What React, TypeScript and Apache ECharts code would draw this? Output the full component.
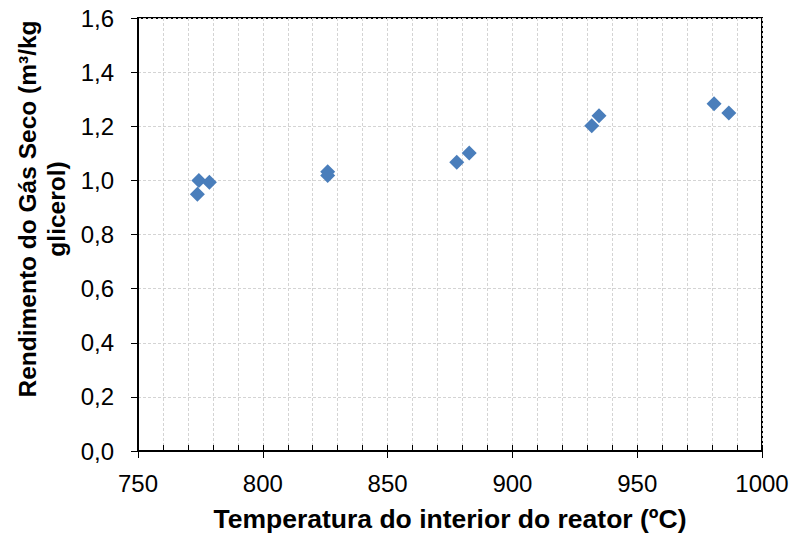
import React, { useEffect, useRef } from "react";
import * as echarts from "echarts";

// Reactor interior temperature (ºC) and dry gas yield (m³/kg glycerol)
const temperatures: number[] = [774.4, 778.6, 773.8, 826.0, 826.0, 877.7, 882.7, 931.8, 934.7, 980.8, 986.7];
const gasYield: number[] = [1.0, 0.993, 0.949, 1.032, 1.018, 1.067, 1.101, 1.202, 1.239, 1.283, 1.249];

const xTitle = "Temperatura do interior do reator (ºC)";
const yTitleLines: string[] = ["Rendimento do Gás Seco (m³/kg", "glicerol)"];

const FONT = "'Liberation Sans', Arial, sans-serif";

export default function App() {
  const ref = useRef<HTMLDivElement>(null);

  useEffect(() => {
    if (!ref.current) return;
    const chart = echarts.init(ref.current, undefined, { renderer: "svg" });

    const points = temperatures.map((t, i) => [t, gasYield[i]]);
    const gridLine = { show: true, lineStyle: { color: "#d4d4d4", width: 1, type: [3, 2] as any } };

    chart.setOption({
      animation: false,
      backgroundColor: "#ffffff",
      textStyle: { fontFamily: FONT },
      grid: {
        left: 138,
        top: 18,
        width: 624,
        height: 434,
        show: true,
        borderColor: "#000",
        borderWidth: 2,
        backgroundColor: "transparent",
      },
      xAxis: [
        {
          type: "value",
          min: 750,
          max: 1000,
          interval: 50,
          axisLine: { show: true, lineStyle: { color: "#000", width: 2 } },
          axisTick: { show: true, inside: false, length: 7, lineStyle: { color: "#000", width: 1 } },
          axisLabel: {
            color: "#000",
            fontSize: 24,
            fontFamily: FONT,
            margin: 20,
            formatter: (v: number) => String(v),
          },
          splitLine: gridLine,
          minorTick: { show: false },
          minorSplitLine: gridLine,
          name: xTitle,
          nameLocation: "middle",
          nameGap: 54,
          nameTextStyle: { color: "#000", fontSize: 26.5, fontWeight: "bold", fontFamily: FONT },
        },
        {
          // inner tick marks (major and minor) drawn on the same scale
          type: "value",
          position: "bottom",
          min: 750,
          max: 1000,
          interval: 50,
          axisLine: { show: false },
          axisLabel: { show: false },
          splitLine: { show: false },
          axisTick: { show: true, inside: true, length: 6, lineStyle: { color: "#000", width: 1 } },
          minorTick: { show: true, splitNumber: 5, length: 6, lineStyle: { color: "#000", width: 1 } },
        },
      ],
      yAxis: {
        type: "value",
        min: 0,
        max: 1.6,
        interval: 0.2,
        axisLine: { show: true, lineStyle: { color: "#000", width: 2 } },
        axisTick: { show: true, inside: false, length: 7, lineStyle: { color: "#000", width: 1 } },
        axisLabel: {
          color: "#000",
          fontSize: 24,
          fontFamily: FONT,
          margin: 24,
          formatter: (v: number) => v.toFixed(1).replace(".", ","),
        },
        splitLine: gridLine,
      },
      graphic: [
        {
          type: "text",
          x: 42,
          y: 209,
          rotation: Math.PI / 2,
          style: {
            text: yTitleLines.join("\n"),
            fill: "#000",
            font: `bold 24.5px ${FONT}`,
            lineHeight: 29,
            align: "center",
            verticalAlign: "middle",
          },
        },
      ],
      series: [
        {
          type: "scatter",
          xAxisIndex: 0,
          symbol: "diamond",
          symbolSize: 15,
          itemStyle: { color: "#4A7EBB", opacity: 1 },
          data: points,
        },
      ],
    });

    return () => chart.dispose();
  }, []);

  return (
    <div
      ref={ref}
      style={{ position: "fixed", left: 0, top: 0, width: 792, height: 537 }}
    />
  );
}
